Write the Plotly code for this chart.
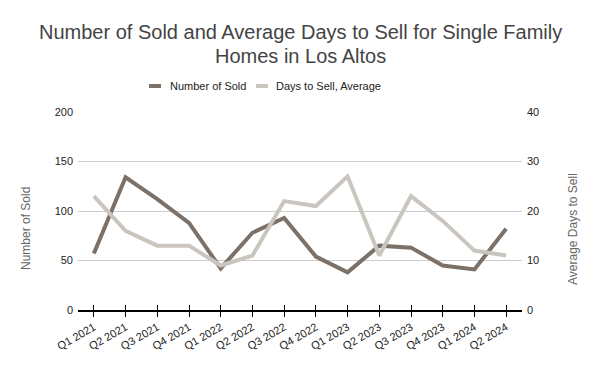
import plotly.graph_objects as go

quarters = ["Q1 2021", "Q2 2021", "Q3 2021", "Q4 2021", "Q1 2022", "Q2 2022", "Q3 2022",
            "Q4 2022", "Q1 2023", "Q2 2023", "Q3 2023", "Q4 2023", "Q1 2024", "Q2 2024"]
number_sold = [57, 134, 112, 88, 42, 78, 93, 54, 38, 65, 63, 45, 41, 82]
days_to_sell = [23, 16, 13, 13, 9, 11, 22, 21, 27, 11, 23, 18, 12, 11]

series_names = ["Number of Sold", "Days to Sell, Average"]
dark = "#7b7168"
light = "#cbc5c0"

font_family = "Liberation Sans, Arial, sans-serif"

fig = go.Figure()
fig.add_trace(go.Scatter(x=quarters, y=number_sold, name=series_names[0], mode="lines",
                         line=dict(color=dark, width=4), xaxis="x", yaxis="y"))
fig.add_trace(go.Scatter(x=quarters, y=days_to_sell, name=series_names[1], mode="lines",
                         line=dict(color=light, width=4), xaxis="x2", yaxis="y2"))

# plot area in pixels: left 78, right 522, top 112, bottom 310
W = 444.0
H = 198.0

def px(xp):
    return (xp - 78) / W

def py(yp):
    return (310 - yp) / H

annotations = [
    dict(text="Number of Sold and Average Days to Sell for Single Family", x=0.5, y=py(32),
         xref="paper", yref="paper", xanchor="center", yanchor="middle", showarrow=False,
         font=dict(size=20, color="#444444", family=font_family)),
    dict(text="Homes in Los Altos", x=0.5, y=py(56),
         xref="paper", yref="paper", xanchor="center", yanchor="middle", showarrow=False,
         font=dict(size=20, color="#444444", family=font_family)),
    dict(text=series_names[0], x=px(168), y=py(86), xref="paper", yref="paper",
         xanchor="left", yanchor="middle", showarrow=False,
         font=dict(size=11, color="#222222", family=font_family)),
    dict(text=series_names[1], x=px(274), y=py(86), xref="paper", yref="paper",
         xanchor="left", yanchor="middle", showarrow=False,
         font=dict(size=11, color="#222222", family=font_family)),
    dict(text="Number of Sold", x=px(26), y=py(229), xref="paper", yref="paper",
         xanchor="center", yanchor="middle", showarrow=False, textangle=-90,
         font=dict(size=12, color="#666666", family=font_family)),
    dict(text="Average Days to Sell", x=px(573), y=py(229), xref="paper", yref="paper",
         xanchor="center", yanchor="middle", showarrow=False, textangle=-90,
         font=dict(size=12, color="#666666", family=font_family)),
]

shapes = [
    dict(type="line", xref="paper", yref="paper", x0=px(149), x1=px(161), y0=py(86), y1=py(86),
         line=dict(color=dark, width=4)),
    dict(type="line", xref="paper", yref="paper", x0=px(256), x1=px(268), y0=py(86), y1=py(86),
         line=dict(color=light, width=4)),
]

fig.update_layout(
    width=600, height=371,
    margin=dict(l=78, r=78, t=112, b=61, autoexpand=False),
    paper_bgcolor="white", plot_bgcolor="white",
    font=dict(family=font_family, size=11, color="#222222"),
    showlegend=False,
    annotations=annotations,
    shapes=shapes,
    xaxis=dict(type="category", range=[-0.5, 13.5], showgrid=False, automargin=False,
               showline=True, linecolor="black", linewidth=1.5,
               ticks="outside", ticklen=5, tickcolor="black", tickwidth=1,
               tickangle=-30, tickfont=dict(size=11, color="#222222")),
    xaxis2=dict(type="category", range=[-0.5, 13.5], overlaying="x", matches="x",
                showgrid=False, automargin=False, showline=False, showticklabels=False,
                ticks="inside", ticklen=5, tickcolor="black", tickwidth=1),
    yaxis=dict(range=[0, 200], tickvals=[0, 50, 100, 150, 200], showgrid=True, automargin=False,
               gridcolor="#cccccc", gridwidth=1, zeroline=False, showline=False,
               ticklabelstandoff=4, tickfont=dict(size=11, color="#222222")),
    yaxis2=dict(range=[0, 40], tickvals=[0, 10, 20, 30, 40], overlaying="y", side="right",
                showgrid=False, zeroline=False, showline=False, automargin=False,
                ticklabelstandoff=4, tickfont=dict(size=11, color="#222222")),
)

fig.write_html("out.html",
               config={"displayModeBar": False},
               post_script="document.body.style.margin='0';document.body.style.overflow='hidden';")
